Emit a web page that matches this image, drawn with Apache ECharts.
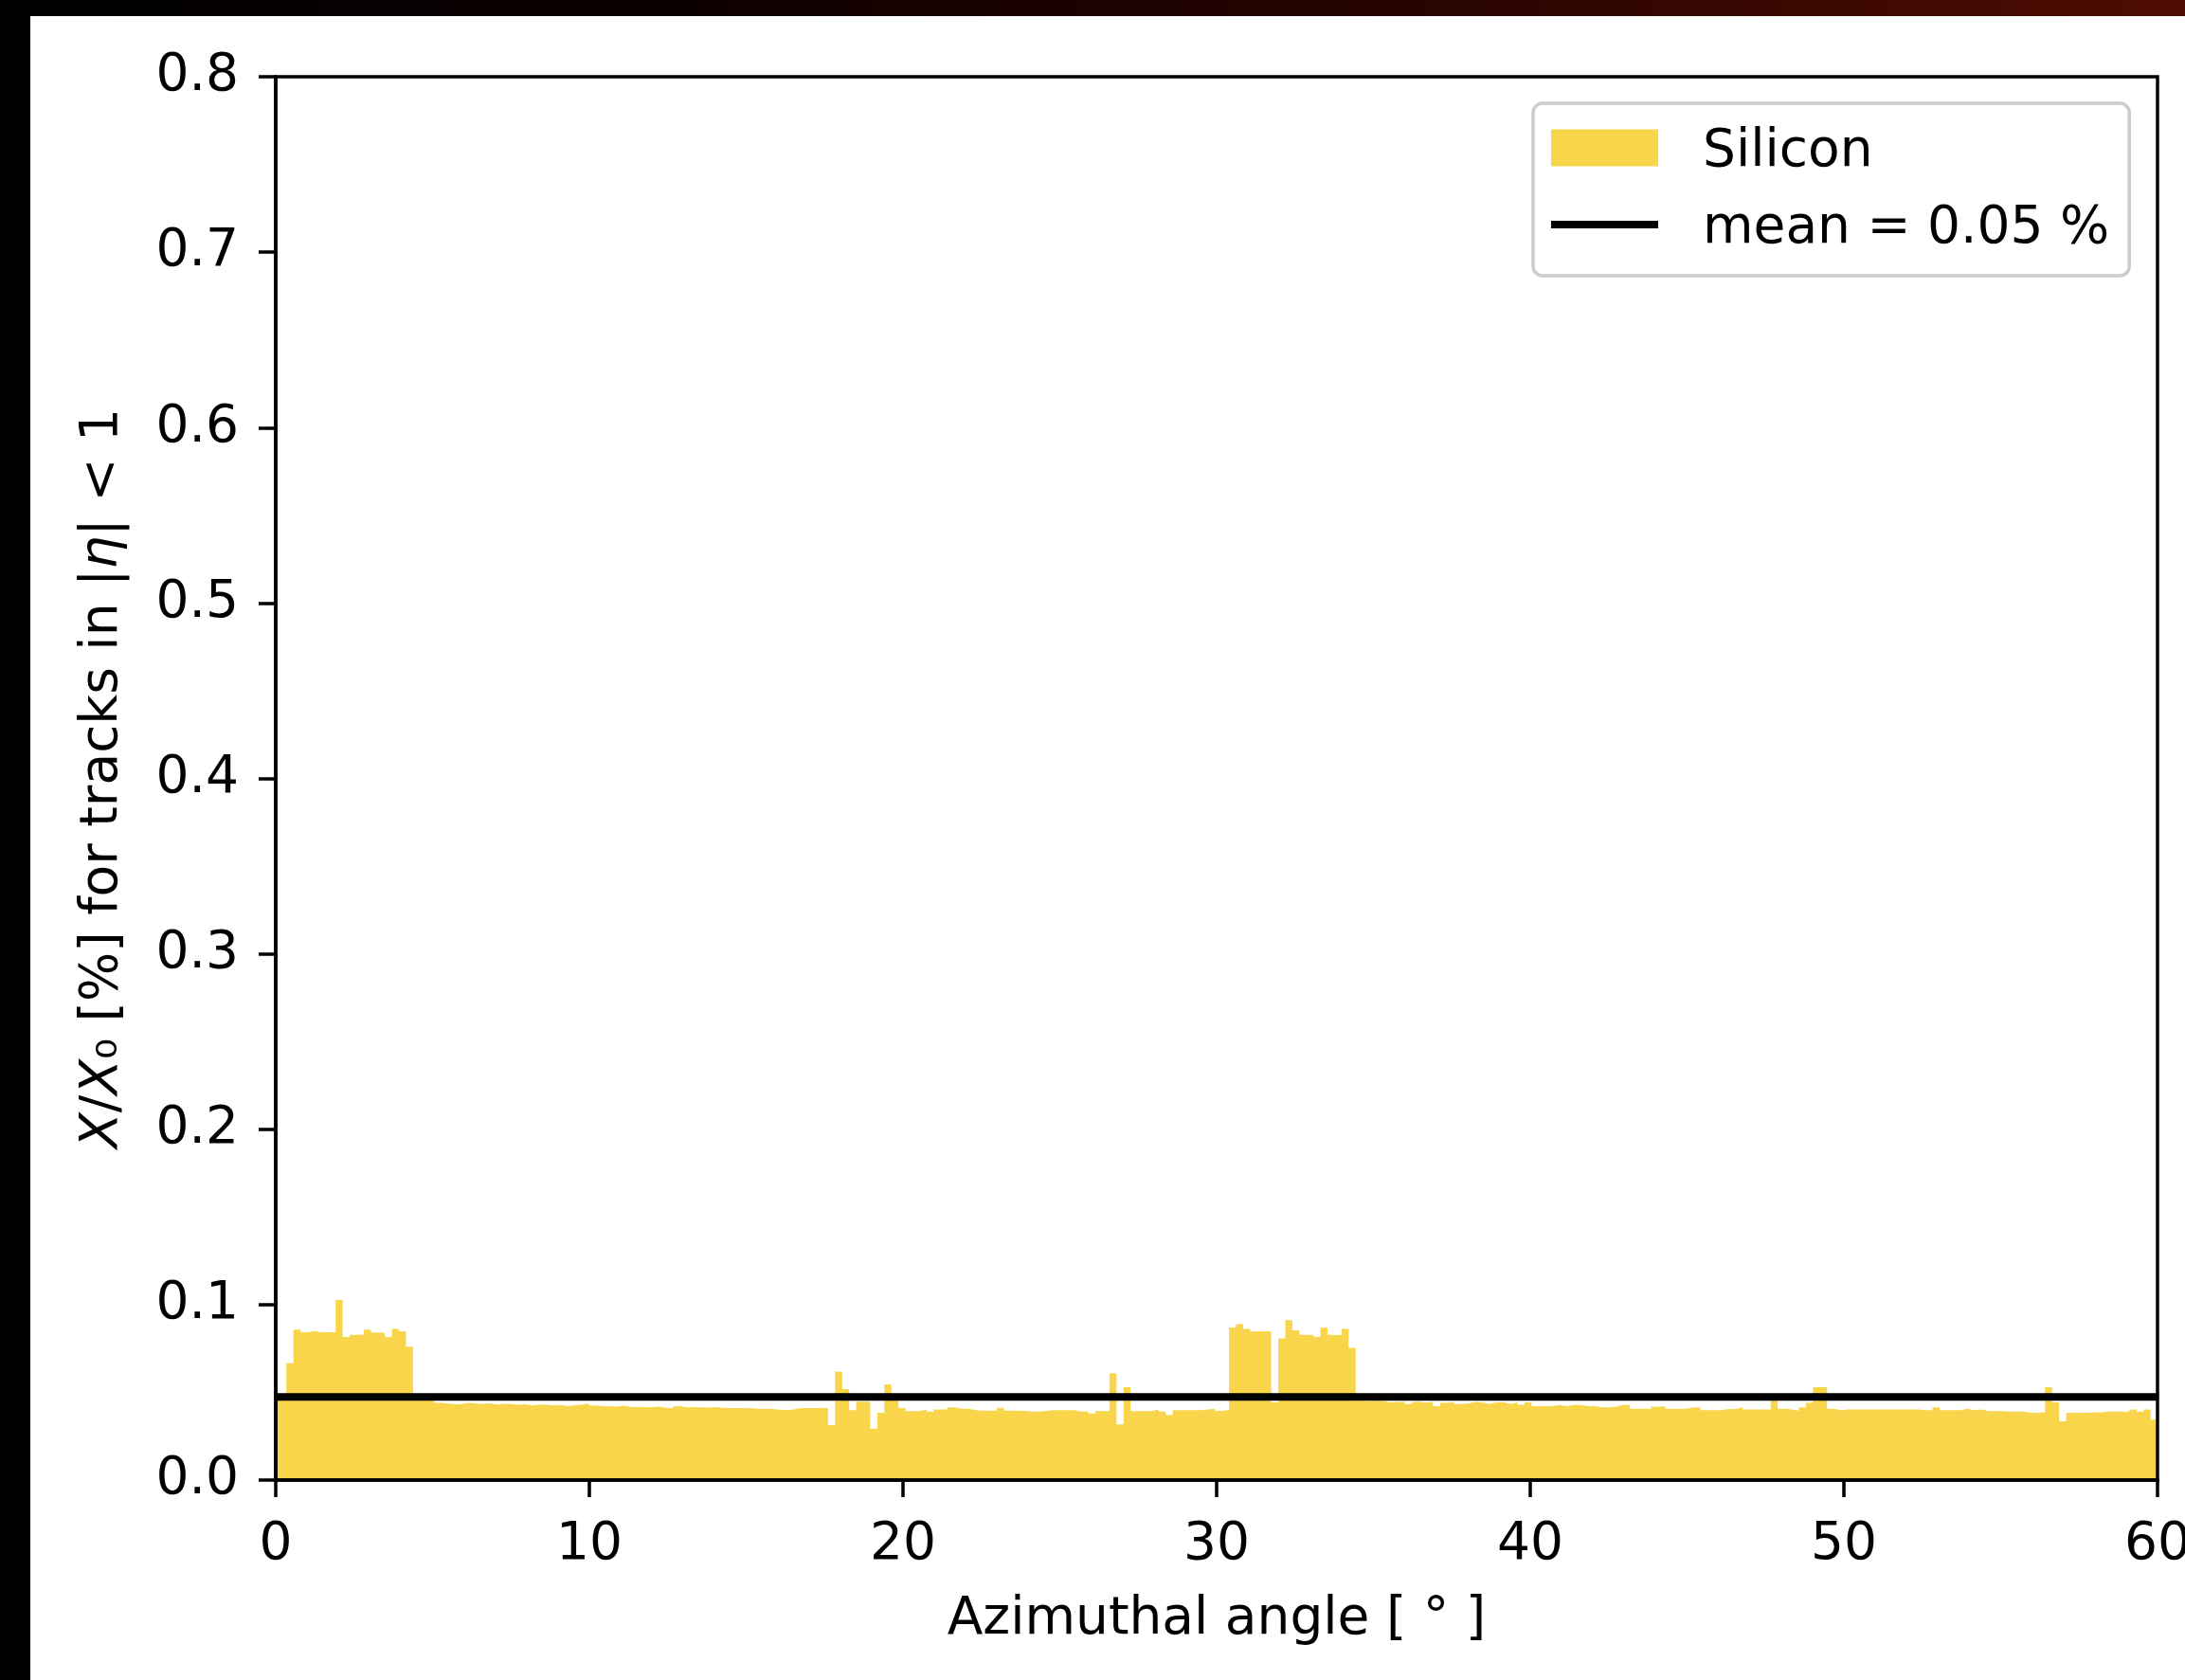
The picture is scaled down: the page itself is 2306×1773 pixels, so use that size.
<!DOCTYPE html>
<html>
<head>
<meta charset="utf-8">
<script src="https://cdn.jsdelivr.net/npm/echarts/dist/echarts.min.js"></script>
<style>
html,body{margin:0;padding:0;background:#fff;}
#chart{width:2306px;height:1773px;}
</style>
</head>
<body>
<div id="chart"></div>
<script>
// 每个bin的 X/X0 (%), 从左到右
var silicon = [
    0.0470, 0.0470, 0.0666, 0.0857, 0.0842, 0.0849, 0.0842, 0.0842, 0.0842, 0.1028,
    0.0816, 0.0828, 0.0829, 0.0857, 0.0841, 0.0840, 0.0816, 0.0861, 0.0848, 0.0760,
    0.0460, 0.0458, 0.0452, 0.0440, 0.0436, 0.0432, 0.0434, 0.0440, 0.0436, 0.0433,
    0.0437, 0.0431, 0.0435, 0.0433, 0.0430, 0.0432, 0.0426, 0.0431, 0.0429, 0.0425,
    0.0428, 0.0421, 0.0427, 0.0430, 0.0437, 0.0426, 0.0421, 0.0421, 0.0419, 0.0424,
    0.0416, 0.0417, 0.0415, 0.0416, 0.0418, 0.0412, 0.0410, 0.0421, 0.0414, 0.0416,
    0.0414, 0.0413, 0.0416, 0.0412, 0.0410, 0.0411, 0.0409, 0.0410, 0.0406, 0.0405,
    0.0406, 0.0401, 0.0400, 0.0401, 0.0410, 0.0411, 0.0410, 0.0412, 0.0411, 0.0313,
    0.0618, 0.0519, 0.0398, 0.0447, 0.0447, 0.0293, 0.0384, 0.0546, 0.0480, 0.0411,
    0.0393, 0.0393, 0.0402, 0.0390, 0.0403, 0.0403, 0.0414, 0.0407, 0.0407, 0.0398,
    0.0396, 0.0396, 0.0396, 0.0412, 0.0396, 0.0396, 0.0394, 0.0390, 0.0390, 0.0394,
    0.0398, 0.0398, 0.0399, 0.0398, 0.0390, 0.0392, 0.0380, 0.0393, 0.0393, 0.0609,
    0.0317, 0.0529, 0.0393, 0.0393, 0.0393, 0.0402, 0.0390, 0.0371, 0.0398, 0.0398,
    0.0398, 0.0399, 0.0403, 0.0407, 0.0394, 0.0400, 0.0870, 0.0890, 0.0861, 0.0848,
    0.0848, 0.0848, 0.0443, 0.0808, 0.0911, 0.0853, 0.0828, 0.0828, 0.0817, 0.0868,
    0.0828, 0.0825, 0.0861, 0.0753, 0.0452, 0.0450, 0.0452, 0.0450, 0.0443, 0.0446,
    0.0445, 0.0434, 0.0446, 0.0441, 0.0446, 0.0421, 0.0440, 0.0446, 0.0434, 0.0436,
    0.0446, 0.0443, 0.0434, 0.0443, 0.0444, 0.0434, 0.0443, 0.0430, 0.0443, 0.0421,
    0.0421, 0.0421, 0.0428, 0.0421, 0.0428, 0.0428, 0.0421, 0.0421, 0.0414, 0.0414,
    0.0418, 0.0428, 0.0428, 0.0407, 0.0407, 0.0407, 0.0418, 0.0418, 0.0407, 0.0407,
    0.0407, 0.0414, 0.0414, 0.0398, 0.0398, 0.0398, 0.0405, 0.0405, 0.0414, 0.0403,
    0.0403, 0.0403, 0.0403, 0.0460, 0.0407, 0.0403, 0.0396, 0.0414, 0.0440, 0.0529,
    0.0529, 0.0407, 0.0398, 0.0403, 0.0403, 0.0403, 0.0403, 0.0403, 0.0402, 0.0403,
    0.0403, 0.0403, 0.0403, 0.0403, 0.0398, 0.0398, 0.0414, 0.0398, 0.0398, 0.0398,
    0.0407, 0.0398, 0.0403, 0.0393, 0.0393, 0.0393, 0.0390, 0.0390, 0.0390, 0.0384,
    0.0384, 0.0386, 0.0529, 0.0443, 0.0335, 0.0384, 0.0384, 0.0384, 0.0386, 0.0386,
    0.0390, 0.0390, 0.0390, 0.0390, 0.0402, 0.0390, 0.0402, 0.0345
];
// bin 边界 (度)
var binStart = -0.1093;
var binWidth = 0.2243;
var meanValue = 0.0474;
var xTicks = [0, 10, 20, 30, 40, 50, 60];
var yTicks = [0.0, 0.1, 0.2, 0.3, 0.4, 0.5, 0.6, 0.7, 0.8];
var seriesNames = ['Silicon', 'mean = 0.05 %'];

var FONT = 'DejaVu Sans';
var YELLOW = '#f8d54b';

function histData(){
    var arr = [];
    for (var i = 0; i < silicon.length; i++) {
        arr.push([binStart + i * binWidth, silicon[i]]);
    }
    // 最后一个bin的右边界
    arr.push([binStart + silicon.length * binWidth, silicon[silicon.length - 1]]);
    return arr;
}

var myChart = echarts.init(document.getElementById('chart'));
var option = {
    animation: false,
    backgroundColor: '#fff',
    graphic: [
        {
            type: 'rect', x: 0, y: 0, z: 100, silent: true,
            shape: {width: 2306, height: 17},
            style: {
                fill: new echarts.graphic.LinearGradient(0, 0, 1, 0, [
                    {offset: 0, color: '#000000'},
                    {offset: 0.3, color: '#0c0000'},
                    {offset: 0.65, color: '#280400'},
                    {offset: 1, color: '#4e0c02'}
                ])
            }
        },
        {
            type: 'rect', x: 0, y: 0, z: 100, silent: true,
            shape: {width: 32, height: 1773},
            style: {fill: '#000'}
        }
    ],
    grid: {
        left: 291, top: 81, right: 29, bottom: 211,
        containLabel: false,
        outerBoundsMode: 'none',
        show: true, borderColor: '#000', borderWidth: 3.5, z: 5
    },
    legend: {
        // 图标下方留一点空, 让文字对齐到图标中线
        data: [
            {name: seriesNames[0], icon: 'path://M0,0L113,0L113,39L0,39Z M0,48L0.01,48Z'},
            {name: seriesNames[1], icon: 'path://M0,0L0.01,0Z M0,15.5L113,15.5L113,23.5L0,23.5Z M0,48L0.01,48Z', itemStyle: {color: '#000'}}
        ],
        orient: 'vertical',
        left: 1618, top: 109,
        itemWidth: 113, itemHeight: 48, itemGap: 26,
        padding: [24, 21, 22, 19],
        backgroundColor: '#fff',
        borderColor: '#cccccc', borderWidth: 3.5, borderRadius: 10,
        selectedMode: false,
        z: 20,
        itemStyle: {borderWidth: 0},
        lineStyle: {width: 0},
        textStyle: {fontSize: 55, fontFamily: FONT, color: '#000', lineHeight: 55, padding: [0, 0, 0, 42]}
    },
    xAxis: {
        type: 'value',
        min: xTicks[0], max: xTicks[xTicks.length - 1], interval: xTicks[1] - xTicks[0],
        z: 10,
        axisLine: {lineStyle: {color: '#000', width: 3.5}},
        axisTick: {show: true, inside: false, length: 18, lineStyle: {color: '#000', width: 3.5}},
        splitLine: {show: false},
        axisLabel: {fontSize: 55, fontFamily: FONT, color: '#000', margin: 41, showMinLabel: true, showMaxLabel: true},
        name: 'Azimuthal angle [ ° ]',
        nameLocation: 'middle',
        nameGap: 120,
        nameTextStyle: {fontSize: 55, fontFamily: FONT, color: '#000'}
    },
    yAxis: {
        type: 'value',
        min: yTicks[0], max: yTicks[yTicks.length - 1], interval: 0.1,
        z: 10,
        axisLine: {show: true, lineStyle: {color: '#000', width: 3.5}},
        axisTick: {show: true, inside: false, length: 18, lineStyle: {color: '#000', width: 3.5}},
        splitLine: {show: false},
        axisLabel: {
            fontSize: 55, fontFamily: FONT, color: '#000', margin: 39,
            padding: [6, 0, 0, 0],
            formatter: function(v){ return v.toFixed(1); }
        },
        name: '{it|X}/{it|X}₀ [%] for tracks in |{it|η}| < 1',
        nameLocation: 'middle',
        nameGap: 155,
        nameTextStyle: {
            fontSize: 55, fontFamily: FONT, color: '#000',
            rich: {it: {fontSize: 55, fontFamily: FONT, fontStyle: 'italic', color: '#000'}}
        }
    },
    series: [
        {
            name: seriesNames[0],
            type: 'line',
            step: 'end',
            color: YELLOW,
            symbol: 'none',
            showSymbol: false,
            lineStyle: {width: 0},
            areaStyle: {color: YELLOW, opacity: 1},
            z: 2,
            data: histData()
        },
        {
            name: seriesNames[1],
            type: 'line',
            color: '#000',
            symbol: 'none',
            showSymbol: false,
            lineStyle: {width: 8, color: '#000'},
            z: 3,
            data: [[xTicks[0], meanValue], [xTicks[xTicks.length - 1], meanValue]]
        }
    ]
};
myChart.setOption(option);
</script>
</body>
</html>
